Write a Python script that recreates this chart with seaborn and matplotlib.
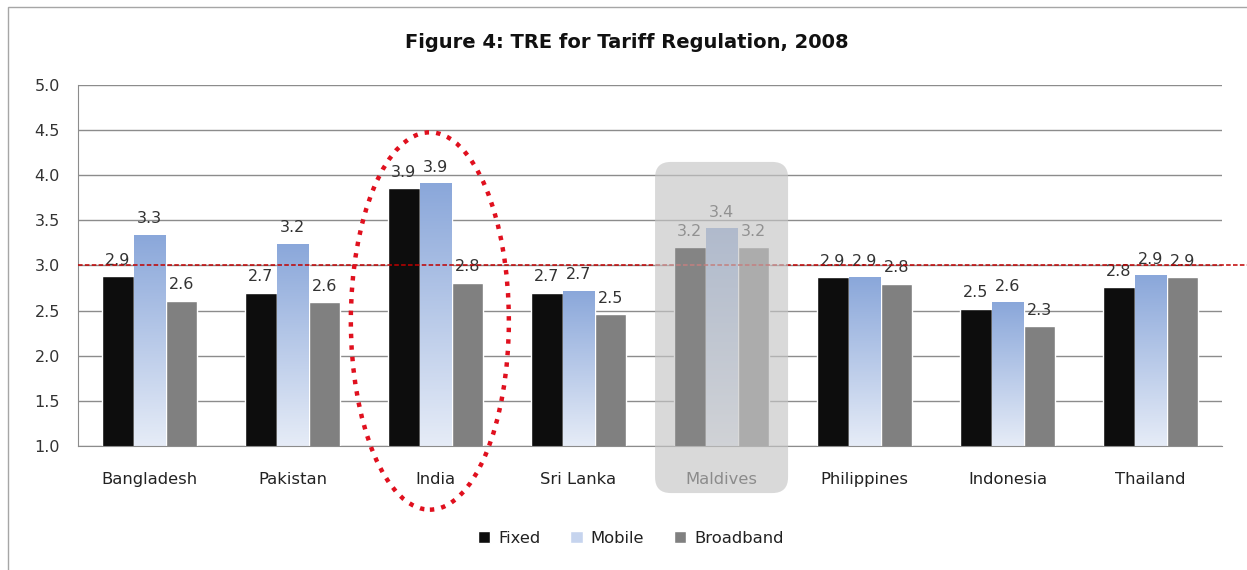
import numpy as np
import pandas as pd
import matplotlib
matplotlib.use("Agg")
import matplotlib.pyplot as plt
import seaborn as sns
from matplotlib.colors import LinearSegmentedColormap
from matplotlib.patches import Ellipse, FancyBboxPatch, Rectangle

countries = ["Bangladesh", "Pakistan", "India", "Sri Lanka", "Maldives",
             "Philippines", "Indonesia", "Thailand"]
series = ["Fixed", "Mobile", "Broadband"]
fixed = [2.88, 2.70, 3.86, 2.70, 3.20, 2.87, 2.52, 2.76]
mobile = [3.34, 3.24, 3.91, 2.72, 3.41, 2.87, 2.59, 2.89]
broadband = [2.61, 2.59, 2.81, 2.46, 3.20, 2.80, 2.33, 2.87]
benchmark = 3.0
yticks = [1.0, 1.5, 2.0, 2.5, 3.0, 3.5, 4.0, 4.5, 5.0]

df = pd.DataFrame({"country": countries, "Fixed": fixed,
                   "Mobile": mobile, "Broadband": broadband})
df = df.melt(id_vars="country", var_name="series", value_name="score")

sns.set_style("white")
plt.rcParams["font.family"] = ["DejaVu Sans"]

fig = plt.figure(figsize=(12.47, 5.70), dpi=100)
ax = fig.add_axes([0.0626, 0.2175, 0.9174, 0.6335])

palette = ["#0d0d0d", "#c6d4ee", "#808080"]
sns.barplot(data=df, x="country", y="score", hue="series", hue_order=series,
            palette=palette, width=0.67, saturation=1, ax=ax, zorder=2)

ax.set_ylim(yticks[0], yticks[-1])
ax.set_yticks(yticks)
ax.set_yticklabels([f"{t:.1f}" for t in yticks])
ax.set_xlim(-0.5, len(countries) - 0.5)
ax.set_xlabel("")
ax.set_ylabel("")
ax.grid(axis="y", color="#8c8c8c", linewidth=1)
ax.set_axisbelow(True)
for side in ["top", "right"]:
    ax.spines[side].set_visible(False)
for side in ["left", "bottom"]:
    ax.spines[side].set_color("#8c8c8c")
ax.tick_params(axis="y", length=0, pad=13, labelsize=11.5, labelcolor="#333333")
ax.tick_params(axis="x", length=0, pad=19, labelsize=11.8, labelcolor="#222222")

# gradient fill for Mobile bars
cmap = LinearSegmentedColormap.from_list("mob", ["#e6ecf7", "#8aa7da"])
grad = np.linspace(0, 1, 256).reshape(-1, 1)
ymin = ax.get_ylim()[0]
for bar in ax.containers[1]:
    x0, w = bar.get_x(), bar.get_width()
    top = bar.get_y() + bar.get_height()
    im = ax.imshow(grad, cmap=cmap, origin="lower", aspect="auto",
                   extent=[x0, x0 + w, ymin, top], zorder=2.1)
    im.set_clip_path(bar)
ax.set_xlim(-0.5, len(countries) - 0.5)
ax.set_ylim(yticks[0], yticks[-1])

for cont in ax.containers:
    ax.bar_label(cont, fmt="%.1f", padding=6, fontsize=11.5, color="#333333")

# benchmark line running past the plot area
ax.plot([0, 1.022], [benchmark, benchmark], transform=ax.get_yaxis_transform(),
        color="#c00000", linestyle=(0, (3, 1.5)), linewidth=1.1,
        clip_on=False, zorder=4)

# greyed-out Maldives box
box = FancyBboxPatch((3.535, 0.479), 0.93, 3.668,
                     boxstyle="round,pad=0,rounding_size=0.11",
                     mutation_aspect=1.584, facecolor="#c5c5c5", alpha=0.65,
                     edgecolor="none", clip_on=False, zorder=5)
ax.add_patch(box)

# dotted ellipse around India
ell = Ellipse((1.96, 2.385), 1.105, 4.18, fill=False, edgecolor="#e0101e",
              linestyle=(0, (1, 1.6)), linewidth=3.2, clip_on=False, zorder=6)
ax.add_patch(ell)

handles, labels = ax.get_legend_handles_labels()
ax.legend(handles, labels, loc="center", bbox_to_anchor=(0.506, 0.056),
          bbox_transform=fig.transFigure, ncol=3, frameon=False,
          fontsize=11.8, handlelength=0.75, handleheight=0.75,
          handletextpad=0.5, columnspacing=1.8, labelcolor="#222222")

fig.text(0.503, 0.926, "Figure 4: TRE for Tariff Regulation, 2008",
         ha="center", va="center", fontsize=14, fontweight="bold",
         color="#111111")

fig.patches.append(Rectangle((8 / 1247, -0.05), 1.0, 0.05 + 1 - 7 / 570,
                             transform=fig.transFigure, fill=False,
                             edgecolor="#a6a6a6", linewidth=1))

fig.savefig("out.png", dpi=100)
